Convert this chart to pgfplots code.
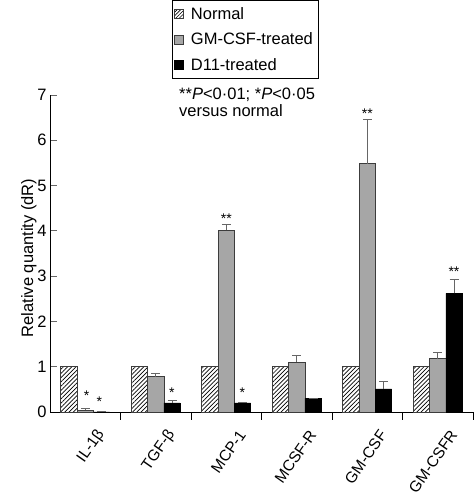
\documentclass[border=0pt]{standalone}
\usepackage{fontspec}
\setmainfont{Liberation Sans}
\usepackage{pgfplots}
\pgfplotsset{compat=1.18}
\usepackage{pgfplotstable}
\usetikzlibrary{patterns.meta}

\definecolor{barg}{HTML}{A6A6A6}
\definecolor{edge}{HTML}{3C3C3C}
\definecolor{errc}{HTML}{666666}
\newcommand\cf{\fontsize{16.5}{17}\selectfont}

\pgfplotstableread{
x n g ge b be
0 1 0.04 0.03 0 0
1 1 0.78 0.07 0.20 0.06
2 1 4.01 0.13 0.20 0
3 1 1.10 0.15 0.30 0
4 1 5.48 0.98 0.51 0.17
5 1 1.18 0.13 2.62 0.31
}\data

\pgfplotstableread{
x y lab
0.02 0.25 *
0.20 0.13 *
1.23 0.32 *
2.23 0.33 *
2.0 4.16 **
4.0 6.49 **
5.23 3.00 **
}\stars

\begin{document}
\begin{tikzpicture}
\begin{axis}[name=ax, scale only axis, width=423pt, height=317pt,
  font=\cf,
  xmin=-0.5, xmax=5.5, ymin=0, ymax=7,
  axis x line=bottom, axis y line=left,
  axis line style={-, line width=0.8pt, black},
  tick align=inside,
  ybar, bar width=0.231,
  xtick={0,...,5},
  xticklabels={IL-1β,TGF-β,MCP-1,MCSF-R,GM-CSF,GM-CSFR},
  major x tick style={draw=none},
  minor xtick={0.5,1.5,2.5,3.5,4.5,5.5},
  minor tick length=8pt, major tick length=7pt,
  minor x tick style={black, line width=0.8pt},
  ytick={0,...,7},
  y tick style={errc, line width=0.8pt},
  xticklabel style={xshift=18pt, yshift=-10pt, rotate=55, anchor=east, font=\fontsize{15.5}{16}\selectfont},
  yticklabel style={font=\cf},
  /pgf/number format/assume math mode=true,
  ylabel={Relative quantity (dR)},
  ylabel style={at={(axis description cs:-0.05,0.486)}, anchor=center, font=\cf},
  clip=false,
  legend cell align=left,
  legend style={at={(axis description cs:0.288,1.2997)}, anchor=north west,
    draw=black, line width=0.8pt, font=\cf, row sep=8pt,
    inner xsep=2pt, inner ysep=5pt,
    nodes={inner xsep=4pt}},
]
\addplot[bar shift=-0.231, draw=edge, line width=0.7pt,
  pattern={Lines[angle=45,distance=3pt,line width=0.7pt]},
  legend image code/.code={\draw[draw=edge, line width=0.6pt, pattern={Lines[angle=45,distance=2.5pt,line width=0.6pt]}] (2pt,-4.5pt) rectangle (11pt,4.5pt); \path (14pt,0pt);}]
  table[x=x, y=n]{\data};
\addlegendentry{Normal}
\addplot[bar shift=0, draw=edge, line width=0.7pt, fill=barg,
  error bars/.cd, y dir=plus, y explicit,
  error bar style={errc, line width=1pt},
  error mark options={rotate=90, mark size=4.5pt, line width=1pt, errc},
  /pgfplots/legend image code/.code={\draw[draw=edge, line width=0.6pt, fill=barg] (2pt,-4.5pt) rectangle (11pt,4.5pt); \path (14pt,0pt);}]
  table[x=x, y=g, y error=ge]{\data};
\addlegendentry{GM-CSF-treated\hspace{9pt}}
\addplot[bar shift=0.231, draw=black, line width=0.7pt, fill=black,
  error bars/.cd, y dir=plus, y explicit,
  error bar style={errc, line width=1pt},
  error mark options={rotate=90, mark size=4.5pt, line width=1pt, errc},
  /pgfplots/legend image code/.code={\draw[draw=black, fill=black] (2pt,-4.5pt) rectangle (11pt,4.5pt); \path (14pt,0pt);}]
  table[x=x, y=b, y error=be]{\data};
\addlegendentry{D11-treated}
\addplot[forget plot, bar shift=0, draw=none, fill=none,
  point meta=explicit symbolic,
  nodes near coords,
  nodes near coords style={anchor=base, inner sep=0pt, font=\fontsize{14}{14}\selectfont}]
  table[x=x, y=y, meta=lab]{\stars};
\node[anchor=north west, align=left, font=\cf, inner sep=0pt]
  at (axis description cs:0.305,1.022) {**\textit{P}<0·01; *\textit{P}<0·05\\versus normal};
\end{axis}
\pgfresetboundingbox
\path[use as bounding box] ([xshift=-50pt,yshift=-86pt]ax.south west) rectangle ([xshift=1pt,yshift=95pt]ax.north east);
\end{tikzpicture}
\end{document}
